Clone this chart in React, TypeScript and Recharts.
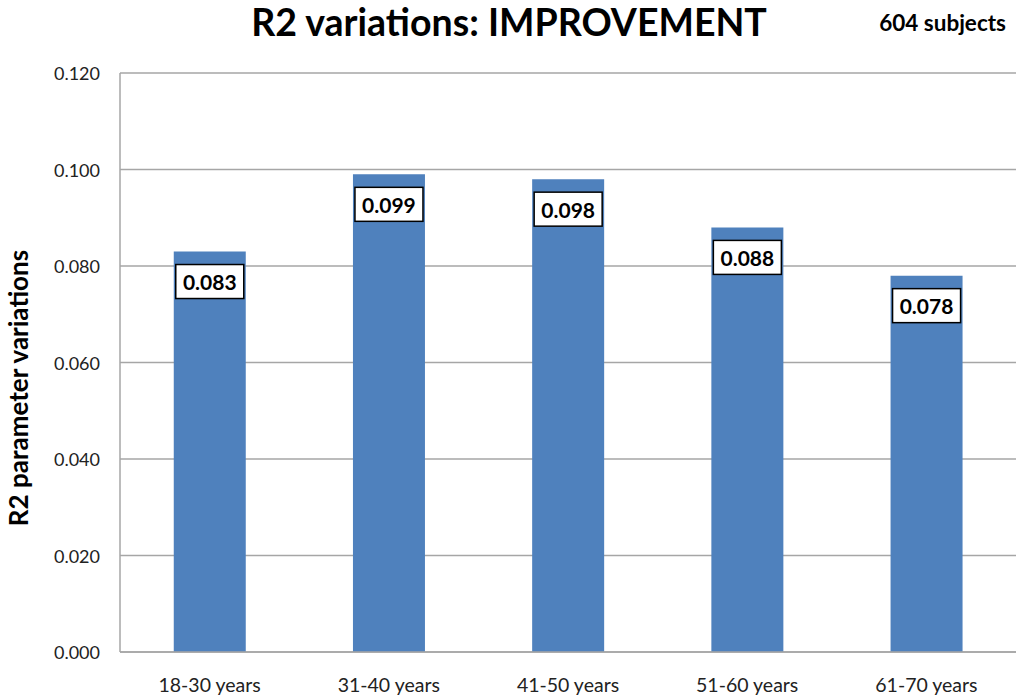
import { Bar, BarChart, CartesianGrid, LabelList, XAxis, YAxis } from "recharts";

const ageGroups = ["18-30 years", "31-40 years", "41-50 years", "51-60 years", "61-70 years"];
const r2Values = [0.083, 0.099, 0.098, 0.088, 0.078];
const yTicks = [0, 0.02, 0.04, 0.06, 0.08, 0.1, 0.12];

const data = ageGroups.map((group, i) => ({ group, value: r2Values[i] }));

const FONT = "Lato, 'Open Sans', sans-serif";

function XTick(props: any) {
  const { x, y, payload } = props;
  return (
    <text x={x} y={y + 30} textAnchor="middle" dominantBaseline="central" fontSize={19.5} fill="#222" fontFamily={FONT}>
      {payload.value}
    </text>
  );
}

function YTick(props: any) {
  const { x, y, payload } = props;
  return (
    <text x={x} y={y} textAnchor="end" dominantBaseline="central" fontSize={18} fill="#222" fontFamily={FONT}>
      {Number(payload.value).toFixed(3)}
    </text>
  );
}

function ValueBox(props: any) {
  const { x, y, width, value } = props;
  const cx = x + width / 2;
  const cy = y + 30;
  return (
    <g>
      <rect x={cx - 34} y={cy - 17} width={68} height={34} fill="#fff" stroke="#000" strokeWidth={1.5} />
      <text x={cx} y={cy} textAnchor="middle" dominantBaseline="central" fontSize={21} fontWeight="bold" fill="#000" fontFamily={FONT}>
        {Number(value).toFixed(3)}
      </text>
    </g>
  );
}

export default function App() {
  return (
    <div style={{ width: 1024, height: 695, position: "relative", background: "#fff" }}>
      <style>{"body{margin:0}"}</style>
      <BarChart
        width={1024}
        height={695}
        data={data}
        margin={{ top: 73, right: 8, left: 10, bottom: 0 }}
        barCategoryGap="30%"
      >
        <text x={509} y={21} textAnchor="middle" dominantBaseline="central" fontSize={37.5} fontWeight="bold" fill="#000" fontFamily={FONT}>
          R2 variations: IMPROVEMENT
        </text>
        <text x={1006} y={22} textAnchor="end" dominantBaseline="central" fontSize={22.5} fontWeight="bold" fill="#000" fontFamily={FONT}>
          604 subjects
        </text>
        <text
          x={18}
          y={388}
          transform="rotate(-90 18 388)"
          textAnchor="middle"
          dominantBaseline="central"
          fontSize={26}
          fontWeight="bold"
          fill="#000"
          fontFamily={FONT}
        >
          R2 parameter variations
        </text>
        <CartesianGrid vertical={false} stroke="#a6a6a6" strokeWidth={1.3} />
        <XAxis
          dataKey="group"
          height={43}
          tickLine={false}
          tickSize={0}
          tick={<XTick />}
          stroke="#a6a6a6"
          strokeWidth={1.5}
          interval={0}
        />
        <YAxis
          width={110}
          domain={[0, 0.12]}
          ticks={yTicks}
          tickLine={false}
          tickSize={0}
          tickMargin={20}
          tick={<YTick />}
          stroke="#a6a6a6"
          strokeWidth={1.5}
          interval={0}
        />
        <Bar dataKey="value" fill="#4f81bd" isAnimationActive={false}>
          <LabelList dataKey="value" content={<ValueBox />} />
        </Bar>
      </BarChart>
    </div>
  );
}
